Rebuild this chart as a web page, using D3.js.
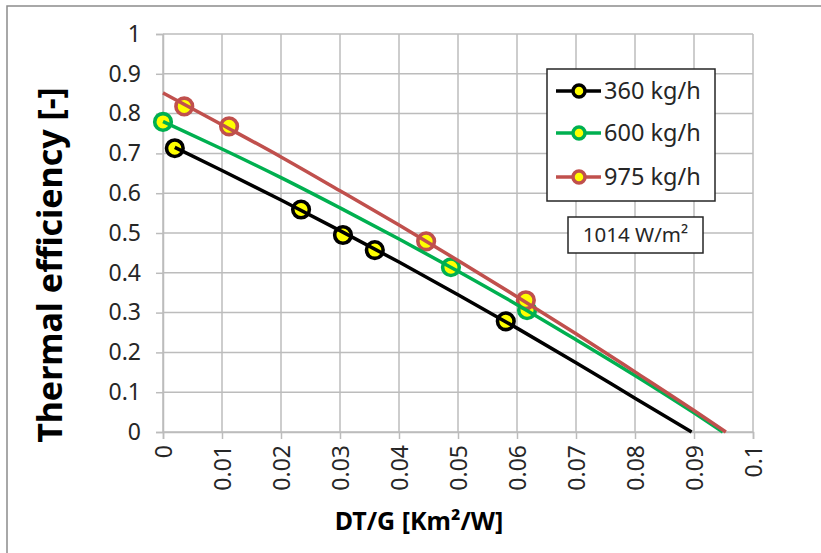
<!DOCTYPE html>
<html><head><meta charset="utf-8">
<script src="https://cdn.jsdelivr.net/npm/d3@7"></script>
<style>body{margin:0;background:#fff;}svg{display:block;font-family:"Noto Sans",sans-serif;}</style>
</head><body>
<script>
// ---- data ----
const seriesNames = ["360 kg/h", "600 kg/h", "975 kg/h"];
const seriesColors = ["#000000", "#00b050", "#c0504d"];
// measured points
const pts360x = [0.002, 0.0234, 0.0305, 0.0359, 0.0581];
const pts360y = [0.713, 0.559, 0.495, 0.457, 0.278];
const pts600x = [0.0, 0.0488, 0.0617];
const pts600y = [0.779, 0.414, 0.306];
const pts975x = [0.0036, 0.0112, 0.0446, 0.0615];
const pts975y = [0.818, 0.768, 0.479, 0.331];
// fit curves
const fit360x = [0.002, 0.01, 0.02, 0.03, 0.04, 0.05, 0.06, 0.07, 0.08, 0.0896];
const fit360y = [0.715, 0.657, 0.583, 0.506, 0.427, 0.345, 0.261, 0.174, 0.085, 0.0];
const fit600x = [0.0, 0.01, 0.02, 0.03, 0.04, 0.05, 0.06, 0.07, 0.08, 0.09, 0.0949];
const fit600y = [0.78, 0.711, 0.639, 0.563, 0.485, 0.404, 0.320, 0.232, 0.142, 0.048, 0.0];
const fit975x = [0.0, 0.01, 0.02, 0.03, 0.04, 0.05, 0.06, 0.07, 0.08, 0.09, 0.0954];
const fit975y = [0.852, 0.772, 0.691, 0.606, 0.520, 0.431, 0.340, 0.247, 0.151, 0.054, 0.0];
const xTicks = [0, 0.01, 0.02, 0.03, 0.04, 0.05, 0.06, 0.07, 0.08, 0.09, 0.1];
const xTickLabels = ["0", "0.01", "0.02", "0.03", "0.04", "0.05", "0.06", "0.07", "0.08", "0.09", "0.1"];
const yTicks = [0, 0.1, 0.2, 0.3, 0.4, 0.5, 0.6, 0.7, 0.8, 0.9, 1];
const yTickLabels = ["0", "0.1", "0.2", "0.3", "0.4", "0.5", "0.6", "0.7", "0.8", "0.9", "1"];
const xTitle = "DT/G [Km²/W]";
const yTitle = "Thermal efficiency [-]";
const note = "1014 W/m²";

const W = 821, H = 553;
const svg = d3.select("body").append("svg").attr("width", W).attr("height", H);

// outer border
svg.append("rect").attr("x", 7).attr("y", 6).attr("width", W + 10).attr("height", H + 10)
  .attr("fill", "#fff").attr("stroke", "#8c8c8c").attr("stroke-width", 1.5);

const x = d3.scaleLinear().domain([0, 0.1]).range([163, 753]);
const y = d3.scaleLinear().domain([0, 1]).range([432, 34]);
const grid = "#bcbcbc";

// gridlines
svg.append("g").selectAll("line.v").data(xTicks).join("line")
  .attr("x1", d => x(d)).attr("x2", d => x(d)).attr("y1", y(1)).attr("y2", y(0))
  .attr("stroke", grid).attr("stroke-width", 1.5);
svg.append("g").selectAll("line.h").data(yTicks).join("line")
  .attr("x1", x(0)).attr("x2", x(0.1)).attr("y1", d => y(d)).attr("y2", d => y(d))
  .attr("stroke", grid).attr("stroke-width", 1.5);

// axes
const yAxis = d3.axisLeft(y).tickValues(yTicks).tickFormat((d, i) => yTickLabels[i]).tickSize(7).tickPadding(15);
const gy = svg.append("g").attr("transform", `translate(${x(0)},0)`).call(yAxis);
gy.select(".domain").attr("stroke", grid).attr("stroke-width", 1.5);
gy.selectAll(".tick line").attr("stroke", grid).attr("stroke-width", 1.5);
gy.selectAll(".tick text").attr("font-size", 23).attr("fill", "#262626").attr("font-family", "Noto Sans");

const xAxis = d3.axisBottom(x).tickValues(xTicks).tickFormat((d, i) => xTickLabels[i]).tickSize(7).tickPadding(0);
const gx = svg.append("g").attr("transform", `translate(0,${y(0)})`).call(xAxis);
gx.select(".domain").attr("stroke", grid).attr("stroke-width", 1.5);
gx.selectAll(".tick line").attr("stroke", grid).attr("stroke-width", 1.5);
gx.selectAll(".tick text").attr("font-size", 23).attr("fill", "#262626").attr("font-family", "Noto Sans")
  .attr("transform", "translate(0,13) rotate(-90)").attr("text-anchor", "end").attr("x", 0).attr("y", 0).attr("dy", "0.35em");

// titles
svg.append("text").attr("x", 419).attr("y", 530).attr("text-anchor", "middle")
  .attr("font-size", 25).attr("font-weight", "bold").attr("fill", "#000").text(xTitle);
svg.append("text").attr("transform", "translate(62,265) rotate(-90)").attr("text-anchor", "middle")
  .attr("font-size", 34).attr("font-weight", "bold").attr("fill", "#000").text(yTitle);

const pointSets = [[pts360x, pts360y], [pts600x, pts600y], [pts975x, pts975y]];
const fitSets = [[fit360x, fit360y], [fit600x, fit600y], [fit975x, fit975y]];

const line = d3.line().x(d => x(d[0])).y(d => y(d[1])).curve(d3.curveMonotoneX);

// markers
pointSets.forEach((s, k) => {
  const data = s[0].map((v, i) => [v, s[1][i]]);
  svg.append("g").selectAll("circle").data(data).join("circle")
    .attr("cx", d => x(d[0])).attr("cy", d => y(d[1])).attr("r", 8.3)
    .attr("fill", "#ffff00").attr("stroke", seriesColors[k]).attr("stroke-width", 3.6);
});
// fit lines
fitSets.forEach((s, k) => {
  const data = s[0].map((v, i) => [v, s[1][i]]);
  svg.append("path").datum(data).attr("d", line).attr("fill", "none")
    .attr("stroke", seriesColors[k]).attr("stroke-width", 3.5).attr("stroke-linecap", "butt");
});

// legend
const lg = svg.append("g");
lg.append("rect").attr("x", 547).attr("y", 69).attr("width", 168).attr("height", 132)
  .attr("fill", "#fff").attr("stroke", "#262626").attr("stroke-width", 1.5);
const legY = [91, 133, 177];
seriesNames.forEach((n, k) => {
  lg.append("line").attr("x1", 556).attr("x2", 601).attr("y1", legY[k]).attr("y2", legY[k])
    .attr("stroke", seriesColors[k]).attr("stroke-width", 3.5);
  lg.append("circle").attr("cx", 579).attr("cy", legY[k]).attr("r", 6)
    .attr("fill", "#ffff00").attr("stroke", seriesColors[k]).attr("stroke-width", 3.5);
  lg.append("text").attr("x", 604).attr("y", legY[k]).attr("dy", "0.35em")
    .attr("font-size", 23.5).attr("fill", "#262626").text(n);
});

// note box
svg.append("rect").attr("x", 568).attr("y", 217).attr("width", 135).attr("height", 36)
  .attr("fill", "#fff").attr("stroke", "#262626").attr("stroke-width", 1.5);
svg.append("text").attr("x", 635.5).attr("y", 235).attr("dy", "0.35em").attr("text-anchor", "middle")
  .attr("font-size", 20.5).attr("fill", "#262626").text(note);
</script>
</body></html>
